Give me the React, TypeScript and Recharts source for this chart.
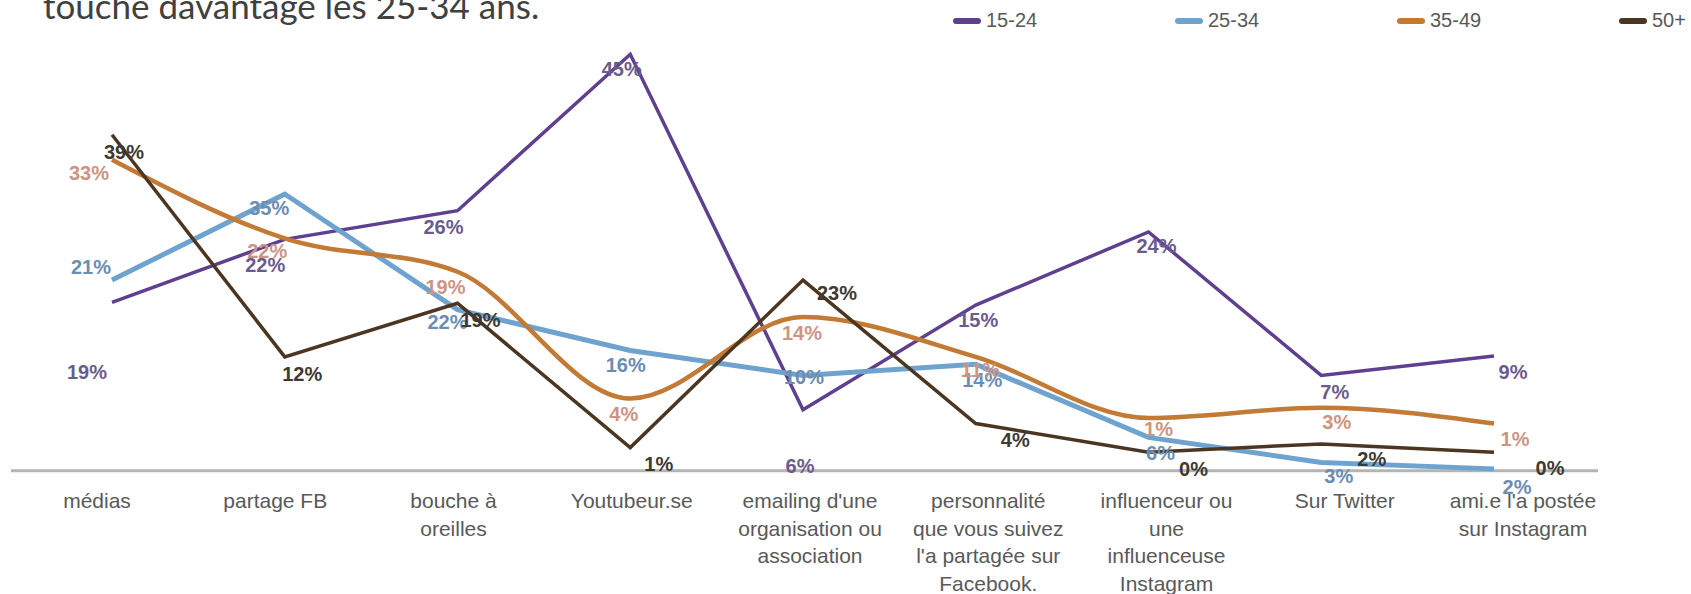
import { LabelList, Line, LineChart, ReferenceLine, XAxis, YAxis } from 'recharts';

// catégories de l'axe X ("\n" = retour à la ligne)
const categories = [
  'médias',
  'partage FB',
  'bouche à\noreilles',
  'Youtubeur.se',
  "emailing d'une\norganisation ou\nassociation",
  "personnalité\nque vous suivez\nl'a partagée sur\nFacebook.",
  'influenceur ou\nune\ninfluenceuse\nInstagram',
  'Sur Twitter',
  "ami.e l'a postée\nsur Instagram",
];

// tracé des courbes
const values1524 = [18.2, 25.0, 28.1, 45.0, 6.6, 17.9, 25.8, 10.3, 12.4];
const values2534 = [20.6, 29.9, 17.4, 13.0, 10.3, 11.5, 3.6, 0.9, 0.2];
const values3549 = [33.6, 25.1, 21.5, 7.8, 16.6, 12.3, 5.7, 6.8, 5.1];
const values50 = [36.3, 12.3, 18.1, 2.5, 20.6, 5.1, 2.0, 2.9, 2.0];

// étiquettes affichées
const labels1524 = ['19%', '22%', '26%', '45%', '6%', '15%', '24%', '7%', '9%'];
const labels2534 = ['21%', '35%', '22%', '16%', '10%', '14%', '6%', '3%', '2%'];
const labels3549 = ['33%', '22%', '19%', '4%', '14%', '11%', '1%', '3%', '1%'];
const labels50 = ['39%', '12%', '19%', '1%', '23%', '4%', '0%', '2%', '0%'];

// hauteur où chaque étiquette est posée, mêmes unités que les courbes
const labelAt1524 = [10.7, 22.3, 26.4, 43.4, 0.5, 16.3, 24.3, 8.5, 10.7];
const labelAt2534 = [22.0, 28.4, 16.1, 11.4, 10.1, 9.8, 1.9, -0.5, -1.7];
const labelAt3549 = [32.2, 23.8, 19.9, 6.2, 14.9, 10.9, 4.5, 5.3, 3.4];
const labelAt50 = [34.5, 10.5, 16.3, 0.8, 19.2, 3.3, 0.2, 1.3, 0.3];

const data = categories.map((cat, i) => ({
  cat,
  a: values1524[i],
  b: values2534[i],
  c: values3549[i],
  d: values50[i],
  la: labelAt1524[i],
  lb: labelAt2534[i],
  lc: labelAt3549[i],
  ld: labelAt50[i],
  ta: labels1524[i],
  tb: labels2534[i],
  tc: labels3549[i],
  td: labels50[i],
}));

const series = [
  { key: 'a', name: '15-24', color: '#5f3f8f', labelColor: '#6b5b8c', width: 3.5, type: 'linear', dx: -10 },
  { key: 'b', name: '25-34', color: '#6fa3cf', labelColor: '#6c8db1', width: 5, type: 'linear', dx: -6 },
  { key: 'c', name: '35-49', color: '#c27a35', labelColor: '#cd9484', width: 4.5, type: 'monotone', dx: -8 },
  { key: 'd', name: '50+', color: '#4b3621', labelColor: '#3e3933', width: 3.5, type: 'linear', dx: 27 },
] as const;

const FONT = '"Liberation Sans", Arial, sans-serif';

const makeLabel = (fill: string, dx: number) => (props: any) => {
  const vb = props.viewBox || {};
  const x = (props.x ?? vb.x + (vb.width || 0) / 2) + dx;
  const y = props.y ?? vb.y + (vb.height || 0) / 2;
  return (
    <text
      x={x}
      y={y}
      dy="0.36em"
      textAnchor="middle"
      fill={fill}
      fontSize={20}
      fontWeight="bold"
      fontFamily={FONT}
    >
      {props.value}
    </text>
  );
};

const CatTick = (props: any) => {
  const { x, y, payload } = props;
  const lines = String(payload.value).split('\n');
  return (
    <g transform={`translate(${x},${y})`}>
      <text textAnchor="middle" fill="#595959" fontSize={21} fontFamily={FONT}>
        {lines.map((l, i) => (
          <tspan key={i} x={0} y={-9 + i * 27.5}>
            {l}
          </tspan>
        ))}
      </text>
    </g>
  );
};

const App = () => (
  <div
    style={{
      position: 'absolute',
      left: 0,
      top: 0,
      width: 1691,
      height: 594,
      overflow: 'hidden',
      background: '#fff',
    }}
  >
    <div
      style={{
        position: 'absolute',
        left: 43,
        top: -12,
        fontFamily: 'Lato, "Open Sans", sans-serif',
        fontSize: 35,
        lineHeight: '35px',
        color: '#404040',
        whiteSpace: 'nowrap',
      }}
    >
      touche davantage les 25-34 ans.
    </div>

    <div style={{ position: 'absolute', left: 953, top: 9, display: 'flex' }}>
      {series.map(s => (
        <div
          key={s.key}
          style={{ width: 222, display: 'flex', alignItems: 'center', fontFamily: FONT, fontSize: 20, color: '#595959' }}
        >
          <span
            style={{ width: 28, height: 6, borderRadius: 3, background: s.color, marginRight: 5, display: 'inline-block' }}
          />
          {s.name}
        </div>
      ))}
    </div>

    <LineChart
      width={1691}
      height={594}
      data={data}
      margin={{ top: 8, right: 93, bottom: 0, left: 11 }}
    >
      <XAxis
        xAxisId="labels"
        dataKey="cat"
        height={77}
        axisLine={false}
        tickLine={false}
        tickSize={0}
        tickMargin={0}
        interval={0}
        padding={{ left: 86, right: 75 }}
        tick={<CatTick />}
      />
      <XAxis xAxisId="lines" dataKey="cat" hide padding={{ left: 101, right: 104 }} />
      <YAxis hide domain={[-5, 50]} type="number" />
      <ReferenceLine xAxisId="labels" y={0} stroke="#b4b4b4" strokeWidth={3} />

      {series.map(s => (
        <Line
          key={s.key}
          xAxisId="lines"
          type={s.type}
          dataKey={s.key}
          name={s.name}
          stroke={s.color}
          strokeWidth={s.width}
          dot={false}
          activeDot={false}
          isAnimationActive={false}
        />
      ))}

      {series.map(s => (
        <Line
          key={`l${s.key}`}
          xAxisId="labels"
          dataKey={`l${s.key}`}
          stroke="none"
          dot={false}
          activeDot={false}
          legendType="none"
          isAnimationActive={false}
        >
          <LabelList dataKey={`t${s.key}`} content={makeLabel(s.labelColor, s.dx)} />
        </Line>
      ))}
    </LineChart>
  </div>
);

export default App;
